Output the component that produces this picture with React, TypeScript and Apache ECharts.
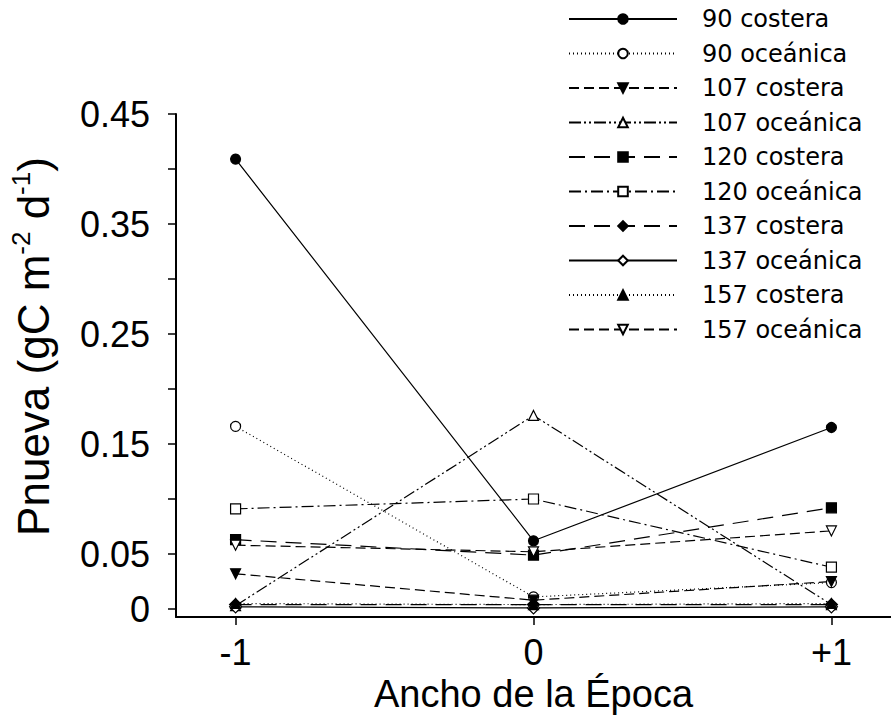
import React, { useEffect, useRef } from "react";
import * as echarts from "echarts";

const categories = [-1, 0, 1];
const xTickLabels = ["-1", "0", "+1"];
const yTickValues = [0, 0.05, 0.1, 0.15, 0.2, 0.25, 0.3, 0.35, 0.4, 0.45];
const yLabelValues = [0, 0.05, 0.15, 0.25, 0.35, 0.45];

const s90c = [0.409, 0.062, 0.165];
const s90o = [0.166, 0.011, 0.024];
const s107c = [0.032, 0.008, 0.025];
const s107o = [0.003, 0.176, 0.004];
const s120c = [0.063, 0.049, 0.092];
const s120o = [0.091, 0.1, 0.038];
const s137c = [0.004, 0.004, 0.004];
const s137o = [0.002, 0.001, 0.002];
const s157c = [0.005, 0.004, 0.005];
const s157o = [0.058, 0.052, 0.071];

const seriesDefs = [
  { name: "90 costera", data: s90c, symbol: "circle", filled: true, rotate: 0, dash: "solid" },
  { name: "90 oceánica", data: s90o, symbol: "circle", filled: false, rotate: 0, dash: [1, 3] },
  { name: "107 costera", data: s107c, symbol: "triangle", filled: true, rotate: 180, dash: [10, 5] },
  { name: "107 oceánica", data: s107o, symbol: "triangle", filled: false, rotate: 0, dash: [12, 3, 2, 3, 2, 3] },
  { name: "120 costera", data: s120c, symbol: "rect", filled: true, rotate: 0, dash: [16, 9] },
  { name: "120 oceánica", data: s120o, symbol: "rect", filled: false, rotate: 0, dash: [12, 4, 2, 4] },
  { name: "137 costera", data: s137c, symbol: "diamond", filled: true, rotate: 0, dash: [16, 9] },
  { name: "137 oceánica", data: s137o, symbol: "diamond", filled: false, rotate: 0, dash: "solid" },
  { name: "157 costera", data: s157c, symbol: "triangle", filled: true, rotate: 0, dash: [1, 3] },
  { name: "157 oceánica", data: s157o, symbol: "triangle", filled: false, rotate: 180, dash: [10, 5] },
];

const FONT = "Liberation Sans";

export default function App() {
  const ref = useRef<HTMLDivElement>(null);
  useEffect(() => {
    if (!ref.current) return;
    const chart = echarts.init(ref.current, undefined, { renderer: "svg" });
    const series = seriesDefs.map((s) => ({
      name: s.name,
      type: "line",
      data: s.data.map((v, i) => [categories[i], v]),
      symbol: s.symbol,
      symbolSize: s.symbol === "diamond" ? 12 : 10,
      symbolRotate: s.rotate,
      showSymbol: true,
      itemStyle: {
        color: s.filled ? "#000" : "#fff",
        borderColor: "#000",
        borderWidth: 1.2,
      },
      lineStyle: { color: "#000", width: 1.2, type: s.dash },
      emphasis: { disabled: true },
    }));
    chart.setOption({
      animation: false,
      backgroundColor: "#fff",
      grid: { left: 171, right: 0, top: 114, bottom: 103, containLabel: false },
      legend: {
        orient: "vertical",
        left: 563,
        top: 2,
        itemWidth: 108,
        itemHeight: 12,
        itemGap: 10.5,
        selectedMode: false,
        textStyle: {
          fontFamily: "DejaVu Sans",
          fontSize: 24,
          color: "#000",
          padding: [0, 0, 0, 20],
        },
        data: seriesDefs.map((s) => s.name),
      },
      xAxis: {
        type: "value",
        min: -1.2,
        max: 1.2,
        axisLine: { onZero: false, lineStyle: { color: "#000", width: 2 } },
        axisTick: { customValues: categories, length: 8, lineStyle: { color: "#000", width: 1.5 } },
        axisLabel: {
          customValues: categories,
          formatter: (v: number) => xTickLabels[categories.indexOf(v)] ?? String(v),
          fontFamily: FONT,
          fontSize: 36,
          color: "#000",
          margin: 17,
        },
        splitLine: { show: false },
        name: "Ancho de la Época",
        nameLocation: "middle",
        nameGap: 52,
        nameTextStyle: { fontFamily: FONT, fontSize: 38, color: "#000" },
      },
      yAxis: {
        type: "value",
        min: -0.00727,
        max: 0.45,
        axisLine: { show: true, onZero: false, lineStyle: { color: "#000", width: 2 } },
        axisTick: { customValues: yTickValues, length: 8, lineStyle: { color: "#000", width: 1.5 } },
        axisLabel: {
          customValues: yLabelValues,
          formatter: (v: number) => (v === 0 ? "0" : v.toFixed(2)),
          fontFamily: FONT,
          fontSize: 36,
          color: "#000",
          margin: 26,
        },
        splitLine: { show: false },
        name: "{a|Pnueva (gC m}{s|-2}{a| d}{s|-1}{a|)}",
        nameLocation: "middle",
        nameRotate: 90,
        nameGap: 118,
        nameTextStyle: {
          color: "#000",
          padding: [0, 0, 0, 38],
          rich: {
            a: { fontFamily: FONT, fontSize: 44, color: "#000", lineHeight: 50 },
            s: { fontFamily: FONT, fontSize: 26, color: "#000", lineHeight: 50, verticalAlign: "top" },
          },
        },
      },
      series,
    });
    return () => chart.dispose();
  }, []);
  return (
    <div
      ref={ref}
      style={{ position: "fixed", left: 0, top: 0, width: 891, height: 720, background: "#fff" }}
    />
  );
}
